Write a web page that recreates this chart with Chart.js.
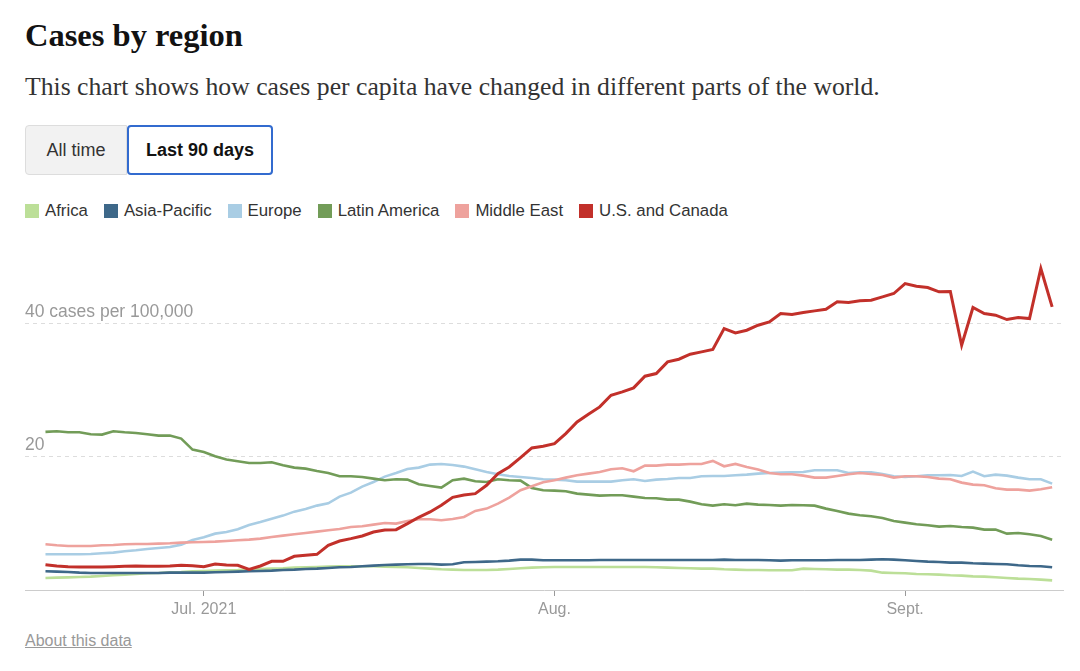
<!DOCTYPE html>
<html>
<head>
<meta charset="utf-8">
<script src="https://cdn.jsdelivr.net/npm/chart.js@4"></script>
<style>
  body { margin: 0; background: #fff; width: 1080px; height: 671px; position: relative; overflow: hidden; font-family: "Liberation Sans", Arial, sans-serif; }
  h1 { position: absolute; left: 25px; top: 17px; margin: 0; font: bold 32.5px "Liberation Serif", serif; color: #121212; }
  .sub { position: absolute; left: 25px; top: 72px; margin: 0; font: 25.7px "Liberation Serif", serif; color: #333; }
  .btns { position: absolute; left: 25px; top: 125px; display: flex; }
  .btn { height: 50px; box-sizing: border-box; display: flex; align-items: center; justify-content: center; font-size: 18px; color: #333; }
  .b1 { width: 102px; background: #f2f2f2; border: 1px solid #ddd; border-radius: 4px 0 0 4px; }
  .b2 { width: 146px; background: #fff; border: 2px solid #326bcf; border-radius: 4px; font-weight: bold; color: #121212; }
  .legend { position: absolute; left: 25px; top: 201px; display: flex; font-size: 16.8px; color: #333; }
  .legend span { display: flex; align-items: center; margin-right: 16px; }
  .legend i { width: 14px; height: 14px; margin-right: 6px; display: inline-block; }
  #chart { position: absolute; left: 0; top: 246px; }
  .about { position: absolute; left: 25px; top: 632px; font-size: 16px; color: #999; text-decoration: underline; }
</style>
</head>
<body>
<h1>Cases by region</h1>
<p class="sub">This chart shows how cases per capita have changed in different parts of the world.</p>
<div class="btns"><div class="btn b1">All time</div><div class="btn b2">Last 90 days</div></div>
<div class="legend" id="legend"></div>
<canvas id="chart" width="1080" height="384"></canvas>
<div class="about">About this data</div>
<script>
// Daily points, June 17 to Sept. 14, 2021 (cases per 100,000)
const regions = ['Africa', 'Asia-Pacific', 'Europe', 'Latin America', 'Middle East', 'U.S. and Canada'];
const colors = ['#bcdf98', '#3e6889', '#a9cde4', '#729c58', '#eea29d', '#c2302a'];

const africa = [1.8, 1.85, 1.9, 1.95, 2.0, 2.1, 2.2, 2.3, 2.4, 2.5, 2.55, 2.65, 2.7, 2.8, 2.85, 2.9, 2.95, 3.0, 3.1, 3.15,
  3.2, 3.25, 3.35, 3.4, 3.45, 3.5, 3.55, 3.55, 3.55, 3.55, 3.5, 3.45, 3.4, 3.3, 3.2, 3.1, 3.05, 3.0, 3.0, 3.0,
  3.05, 3.15, 3.25, 3.35, 3.4, 3.45, 3.45, 3.45, 3.45, 3.45, 3.45, 3.45, 3.45, 3.45, 3.4, 3.35, 3.3, 3.25, 3.2, 3.2,
  3.1, 3.05, 3.0, 3.0, 2.95, 2.95, 2.95, 3.2, 3.15, 3.1, 3.05, 3.05, 3.0, 2.9, 2.6, 2.55, 2.5, 2.4, 2.35, 2.3,
  2.2, 2.15, 2.05, 2.0, 1.9, 1.8, 1.7, 1.65, 1.55, 1.45];
const asiaPacific = [2.8, 2.75, 2.7, 2.6, 2.55, 2.55, 2.55, 2.55, 2.55, 2.55, 2.55, 2.6, 2.6, 2.6, 2.6, 2.65, 2.7, 2.75, 2.8, 2.85,
  2.9, 3.0, 3.05, 3.15, 3.2, 3.3, 3.4, 3.45, 3.55, 3.65, 3.75, 3.8, 3.85, 3.9, 3.9, 3.8, 3.85, 4.15, 4.2, 4.25,
  4.3, 4.4, 4.55, 4.55, 4.45, 4.45, 4.45, 4.45, 4.45, 4.5, 4.5, 4.5, 4.5, 4.5, 4.5, 4.5, 4.5, 4.5, 4.5, 4.5,
  4.55, 4.5, 4.5, 4.5, 4.45, 4.4, 4.45, 4.45, 4.45, 4.45, 4.5, 4.5, 4.5, 4.55, 4.6, 4.55, 4.45, 4.35, 4.25, 4.2,
  4.1, 4.1, 4.0, 3.95, 3.9, 3.85, 3.7, 3.6, 3.55, 3.4];
const europe = [5.35, 5.35, 5.35, 5.35, 5.4, 5.5, 5.6, 5.8, 5.95, 6.15, 6.3, 6.45, 6.8, 7.5, 7.9, 8.45, 8.7, 9.1, 9.75, 10.2,
  10.7, 11.15, 11.75, 12.15, 12.65, 13.0, 14.0, 14.6, 15.5, 16.2, 17.0, 17.55, 18.15, 18.35, 18.8, 18.9, 18.75, 18.5, 18.1, 17.7,
  17.35, 17.1, 16.95, 16.8, 16.6, 16.55, 16.45, 16.25, 16.25, 16.25, 16.25, 16.45, 16.6, 16.35, 16.55, 16.65, 16.8, 16.8, 17.05, 17.1,
  17.1, 17.2, 17.3, 17.45, 17.55, 17.6, 17.65, 17.7, 17.95, 17.95, 17.95, 17.55, 17.65, 17.65, 17.4, 17.05, 16.95, 17.05, 17.2, 17.2,
  17.25, 17.1, 17.75, 17.05, 17.3, 17.15, 16.85, 16.6, 16.6, 15.95];
const latinAmerica = [23.7, 23.8, 23.65, 23.65, 23.35, 23.3, 23.8, 23.65, 23.55, 23.35, 23.15, 23.15, 22.7, 21.05, 20.7, 20.05, 19.55, 19.3, 19.05, 19.05,
  19.15, 18.7, 18.35, 18.2, 17.85, 17.55, 17.05, 17.05, 16.95, 16.7, 16.45, 16.6, 16.55, 15.85, 15.6, 15.35, 16.45, 16.7, 16.3, 16.2,
  16.6, 16.45, 16.4, 15.3, 14.95, 14.9, 14.8, 14.45, 14.3, 14.15, 14.2, 14.2, 14.0, 13.8, 13.75, 13.55, 13.55, 13.25, 12.85, 12.65,
  12.85, 12.7, 12.95, 12.8, 12.75, 12.65, 12.75, 12.7, 12.65, 12.2, 11.85, 11.45, 11.2, 11.05, 10.8, 10.35, 10.1, 9.85, 9.7, 9.5,
  9.6, 9.45, 9.35, 9.05, 9.05, 8.45, 8.55, 8.35, 8.1, 7.55];
const middleEast = [6.85, 6.7, 6.6, 6.6, 6.6, 6.7, 6.75, 6.85, 6.9, 6.9, 6.95, 7.0, 7.1, 7.15, 7.2, 7.25, 7.35, 7.45, 7.55, 7.7,
  7.95, 8.15, 8.35, 8.55, 8.75, 8.95, 9.15, 9.45, 9.55, 9.8, 10.05, 9.95, 10.35, 10.6, 10.6, 10.45, 10.65, 10.95, 11.85, 12.2,
  12.95, 13.85, 14.95, 15.55, 16.15, 16.45, 16.85, 17.2, 17.45, 17.7, 18.1, 18.25, 17.8, 18.65, 18.65, 18.8, 18.8, 18.9, 18.9, 19.35,
  18.55, 18.9, 18.45, 18.05, 17.55, 17.35, 17.35, 17.15, 16.85, 16.85, 17.1, 17.35, 17.55, 17.4, 17.25, 16.85, 17.05, 17.05, 16.95, 16.7,
  16.6, 16.1, 15.8, 15.7, 15.25, 15.05, 15.05, 14.9, 15.1, 15.4];
const usCanada = [3.8, 3.6, 3.5, 3.45, 3.45, 3.45, 3.5, 3.55, 3.6, 3.55, 3.55, 3.6, 3.7, 3.65, 3.5, 3.9, 3.75, 3.7, 3.1, 3.6,
  4.3, 4.3, 5.05, 5.2, 5.35, 6.7, 7.35, 7.7, 8.1, 8.7, 9.0, 9.05, 9.95, 10.9, 11.7, 12.7, 13.9, 14.25, 14.45, 15.7,
  17.45, 18.45, 19.85, 21.3, 21.55, 21.95, 23.45, 25.2, 26.35, 27.45, 29.2, 29.7, 30.3, 32.05, 32.45, 34.2, 34.6, 35.35, 35.7, 36.05,
  39.2, 38.55, 38.95, 39.7, 40.2, 41.45, 41.3, 41.6, 41.85, 42.1, 43.2, 43.1, 43.35, 43.45, 43.95, 44.45, 45.95, 45.55, 45.35, 44.7,
  44.75, 36.7, 42.35, 41.45, 41.2, 40.55, 40.85, 40.7, 48.2, 42.45];

// Day index of the month ticks (0 = June 17)
const tickDays = [14, 45, 76];
const tickLabels = ['Jul. 2021', 'Aug.', 'Sept.'];
const yTicks = [20, 40];

const series = [africa, asiaPacific, europe, latinAmerica, middleEast, usCanada];

// HTML legend
let legend = document.getElementById('legend');
regions.forEach((name, k) => {
    let item = document.createElement('span');
    item.innerHTML = '<i style="background:' + colors[k] + '"></i>' + name;
    legend.appendChild(item);
});

let datasets = series.map((values, k) => ({
    label: regions[k],
    data: values.map((v, i) => ({ x: i, y: v })),
    borderColor: colors[k],
    borderWidth: k === 5 ? 3 : 2.6,
    pointRadius: 0,
    tension: 0,
    order: 5 - k
}));

let casesChart = new Chart(document.getElementById('chart'), {
    type: 'line',
    data: { datasets: datasets },
    options: {
        responsive: false,
        animation: false,
        layout: { padding: { left: 25, right: 17, top: 10, bottom: 0 } },
        plugins: { legend: { display: false }, tooltip: { enabled: false } },
        scales: {
            x: {
                type: 'linear',
                min: -1.81,
                max: 89.96,
                afterBuildTicks: scale => { scale.ticks = tickDays.map(v => ({ value: v })); },
                afterFit: scale => { scale.height = 40; },
                ticks: {
                    autoSkip: false,
                    maxRotation: 0,
                    padding: 4,
                    color: '#999',
                    font: { family: 'Liberation Sans', size: 16 },
                    callback: v => tickLabels[tickDays.indexOf(v)]
                },
                grid: { drawOnChartArea: false, drawTicks: true, tickLength: 6, color: '#999' },
                border: { display: true, color: '#ccc', width: 1 }
            },
            y: {
                min: 0,
                max: 50,
                afterBuildTicks: scale => { scale.ticks = yTicks.map(v => ({ value: v })); },
                afterFit: scale => { scale.width = 0; },
                ticks: {
                    mirror: true,
                    padding: 0,
                    labelOffset: -11,
                    color: '#999',
                    font: { family: 'Liberation Sans', size: 17.5 },
                    callback: v => v === 40 ? '40 cases per 100,000' : String(v)
                },
                grid: { drawTicks: false, color: '#ddd', lineWidth: 1 },
                border: { display: false, dash: [4, 4] }
            }
        }
    }
});
</script>
</body>
</html>
